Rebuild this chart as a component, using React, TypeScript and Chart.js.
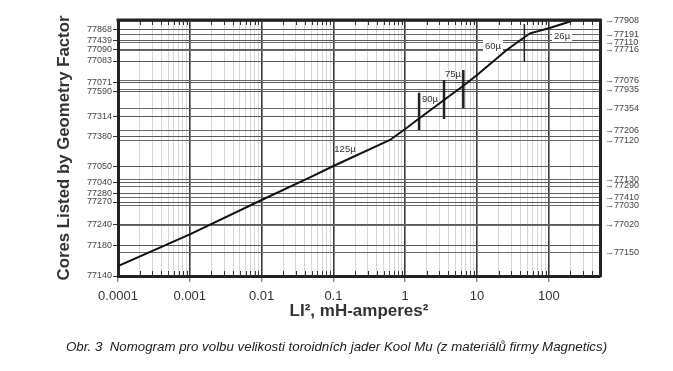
import React, { useEffect, useRef } from 'react';
import { Chart, registerables } from 'chart.js';

Chart.register(...registerables);

// ---- Data ----
const xMin = 0.0001;
const xMax = 516;
const yMin = 0;
const yMax = 256;

// LI² (mH·A²) vs. position on the core list axis
const curveLI2 = [0.0001, 0.001, 0.01, 0.0472, 0.1, 0.614, 1, 1.51, 3.47, 6.38, 10, 25.9, 43.7, 54.7, 100, 208];
const curveLevel = [10, 41.7, 76, 98.7, 110, 136, 147, 156.7, 176, 190, 201, 226, 237.7, 242.7, 247.7, 255];

// cores listed on the left axis and their positions
const leftCores = ['77868', '77439', '77090', '77083', '77071', '77590', '77314', '77380', '77050', '77040', '77280', '77270', '77240', '77180', '77140'];
const leftLevels = [246.3, 235.7, 226.5, 215, 193.7, 184.3, 159.8, 139.3, 109.5, 93.3, 82.3, 74, 51.2, 30.5, 0];

// cores listed on the right axis and their positions
const rightCores = ['77908', '77191', '77110', '77716', '77076', '77935', '77354', '77206', '77120', '77130', '77290', '77410', '77030', '77020', '77150'];
const rightLevels = [255, 241.7, 233.5, 226, 195.8, 186.2, 167.2, 145.3, 135.5, 96.5, 90, 78.7, 70.7, 51, 23.2];

// permeability boundary markers
const markerLI2 = [1.56, 3.47, 6.44, 45.6];
const markerTop = [183.3, 196, 206, 252];
const markerBottom = [146, 157, 167.7, 214.3];
const markerWidth = [2.5, 2.5, 2.5, 1.5];

// permeability labels
const permLabels = ['125µ', '90µ', '75µ', '60µ', '26µ'];
const permLabelLI2 = [0.145, 2.21, 4.63, 16.7, 153];
const permLabelLevel = [127, 177, 202, 230, 240];
const permLabelBg = [false, false, false, true, true];

// x axis decades
const xMajorTicks = [0.0001, 0.001, 0.01, 0.1, 1, 10, 100];
const xMajorLabels = ['0.0001', '0.001', '0.01', '0.1', '1', '10', '100'];
const xMinorMultipliers = [2, 3, 4, 5, 6, 7, 8, 9];

const yTitle = 'Cores Listed by Geometry Factor';
const xTitle = 'LI², mH-amperes²';
const caption = 'Obr. 3  Nomogram pro volbu velikosti toroidních jader Kool Mu (z materiálů firmy Magnetics)';

const FONT = '"Liberation Sans", Arial, Helvetica, sans-serif';

function buildXTicks() {
  const t: { value: number; major: boolean }[] = [];
  xMajorTicks.forEach((m) => {
    t.push({ value: m, major: true });
    xMinorMultipliers.forEach((k) => {
      const v = m * k;
      if (v <= xMax) t.push({ value: v, major: false });
    });
  });
  return t;
}

function isMajor(v: number) {
  return xMajorTicks.some((m) => Math.abs(m - v) / m < 1e-6);
}

const framePlugin = {
  id: 'frameAndInnerTicks',
  afterDatasetsDraw(chart: any) {
    const { ctx, chartArea, scales } = chart;
    const x = scales.x;
    ctx.save();
    ctx.strokeStyle = '#333';
    ctx.lineWidth = 1;
    buildXTicks().forEach((t) => {
      if (t.major) return;
      const px = Math.round(x.getPixelForValue(t.value)) + 0.5;
      ctx.beginPath();
      ctx.moveTo(px, chartArea.top);
      ctx.lineTo(px, chartArea.top + 5);
      ctx.moveTo(px, chartArea.bottom);
      ctx.lineTo(px, chartArea.bottom - 5);
      ctx.stroke();
    });
    // top frame line
    ctx.strokeStyle = '#222';
    ctx.lineWidth = 3;
    ctx.beginPath();
    ctx.moveTo(chartArea.left - 1.5, chartArea.top);
    ctx.lineTo(chartArea.right + 1.5, chartArea.top);
    ctx.stroke();
    ctx.restore();
  },
};

const permLabelPlugin = {
  id: 'permLabels',
  afterDatasetsDraw(chart: any) {
    const { ctx, scales } = chart;
    ctx.save();
    ctx.font = `9.5px ${FONT}`;
    ctx.textAlign = 'center';
    ctx.textBaseline = 'middle';
    permLabels.forEach((txt, i) => {
      const px = scales.x.getPixelForValue(permLabelLI2[i]);
      const py = scales.y.getPixelForValue(permLabelLevel[i]);
      const w = ctx.measureText(txt).width;
      if (permLabelBg[i]) {
        ctx.fillStyle = '#fff';
        ctx.fillRect(px - w / 2 - 2, py - 6, w + 4, 12);
      }
      ctx.fillStyle = '#333';
      ctx.fillText(txt, px, py);
    });
    ctx.restore();
  },
};

export default function App() {
  const canvasRef = useRef<HTMLCanvasElement | null>(null);

  useEffect(() => {
    if (!canvasRef.current) return;
    const curveData = curveLI2.map((x, i) => ({ x, y: curveLevel[i] }));
    const markerSets = markerLI2.map((x, i) => ({
      label: 'marker' + i,
      data: [
        { x, y: markerTop[i] },
        { x, y: markerBottom[i] },
      ],
      borderColor: '#222',
      borderWidth: markerWidth[i],
      pointRadius: 0,
      tension: 0,
    }));

    const chart = new Chart(canvasRef.current, {
      type: 'line',
      data: {
        datasets: [
          {
            label: 'LI²',
            data: curveData,
            borderColor: '#111',
            borderWidth: 2,
            pointRadius: 0,
            tension: 0,
          },
          ...markerSets,
        ],
      },
      options: {
        responsive: false,
        animation: false,
        layout: { padding: { left: 50, right: 0, top: 20, bottom: 46 } },
        plugins: {
          legend: { display: false },
          tooltip: { enabled: false },
          title: { display: false },
        },
        scales: {
          x: {
            type: 'logarithmic',
            position: 'bottom',
            min: xMin,
            max: xMax,
            afterBuildTicks: (scale: any) => {
              scale.ticks = buildXTicks();
            },
            afterFit: (scale: any) => {
              scale.height = 49;
            },
            ticks: {
              autoSkip: false,
              maxRotation: 0,
              minRotation: 0,
              padding: 7,
              color: '#333',
              font: { family: FONT, size: 13 },
              callback: (value: any) => {
                const idx = xMajorTicks.findIndex((m) => Math.abs(m - value) / m < 1e-6);
                return idx >= 0 ? xMajorLabels[idx] : '';
              },
            },
            grid: {
              drawOnChartArea: true,
              drawTicks: true,
              tickLength: 6,
              color: (ctx: any) => (ctx.tick && isMajor(ctx.tick.value) ? '#3a3a3a' : '#d6d6d6'),
              lineWidth: (ctx: any) => (ctx.tick && isMajor(ctx.tick.value) ? 1.6 : 1),
              tickColor: (ctx: any) => (ctx.tick && isMajor(ctx.tick.value) ? '#555' : 'rgba(0,0,0,0)'),
              tickWidth: 1,
            },
            border: { display: true, color: '#222', width: 3 },
            title: {
              display: true,
              text: xTitle,
              color: '#333',
              font: { family: FONT, size: 17, weight: 'bold' },
              padding: { top: 4, bottom: 3 },
            },
          },
          y: {
            type: 'linear',
            position: 'left',
            min: yMin,
            max: yMax,
            afterBuildTicks: (scale: any) => {
              scale.ticks = leftLevels.map((v) => ({ value: v }));
            },
            afterFit: (scale: any) => {
              scale.width = 68;
            },
            ticks: {
              autoSkip: false,
              padding: 1,
              color: '#444',
              font: { family: FONT, size: 9 },
              callback: (_v: any, i: number) => leftCores[i],
            },
            grid: {
              drawOnChartArea: true,
              drawTicks: true,
              tickLength: 5,
              color: '#5a5a5a',
              lineWidth: 1,
              tickColor: '#333',
            },
            border: { display: true, color: '#222', width: 3 },
            title: {
              display: true,
              text: yTitle,
              color: '#333',
              font: { family: FONT, size: 16.8, weight: 'bold' },
              padding: { top: 4, bottom: 4 },
            },
          },
          y2: {
            type: 'linear',
            position: 'right',
            min: yMin,
            max: yMax,
            afterBuildTicks: (scale: any) => {
              scale.ticks = rightLevels.map((v) => ({ value: v }));
            },
            afterFit: (scale: any) => {
              scale.width = 73;
            },
            ticks: {
              autoSkip: false,
              padding: 5,
              color: '#444',
              font: { family: FONT, size: 9 },
              callback: (_v: any, i: number) => '→' + rightCores[i],
            },
            grid: {
              drawOnChartArea: true,
              drawTicks: false,
              color: '#6a6a6a',
              lineWidth: 1,
            },
            border: { display: true, color: '#222', width: 3 },
          },
        },
      } as any,
      plugins: [framePlugin, permLabelPlugin],
    });
    return () => chart.destroy();
  }, []);

  return (
    <div
      style={{
        position: 'fixed',
        left: 0,
        top: 0,
        width: 673,
        height: 371,
        background: '#fff',
        overflow: 'hidden',
      }}
    >
      <canvas ref={canvasRef} width={673} height={371} style={{ width: 673, height: 371, display: 'block' }} />
      <div
        style={{
          position: 'absolute',
          left: 0,
          top: 337,
          width: 673,
          textAlign: 'center',
          fontFamily: FONT,
          fontStyle: 'italic',
          fontSize: 13.3,
          lineHeight: '20px',
          color: '#222',
          whiteSpace: 'pre',
        }}
      >
        {caption}
      </div>
    </div>
  );
}
